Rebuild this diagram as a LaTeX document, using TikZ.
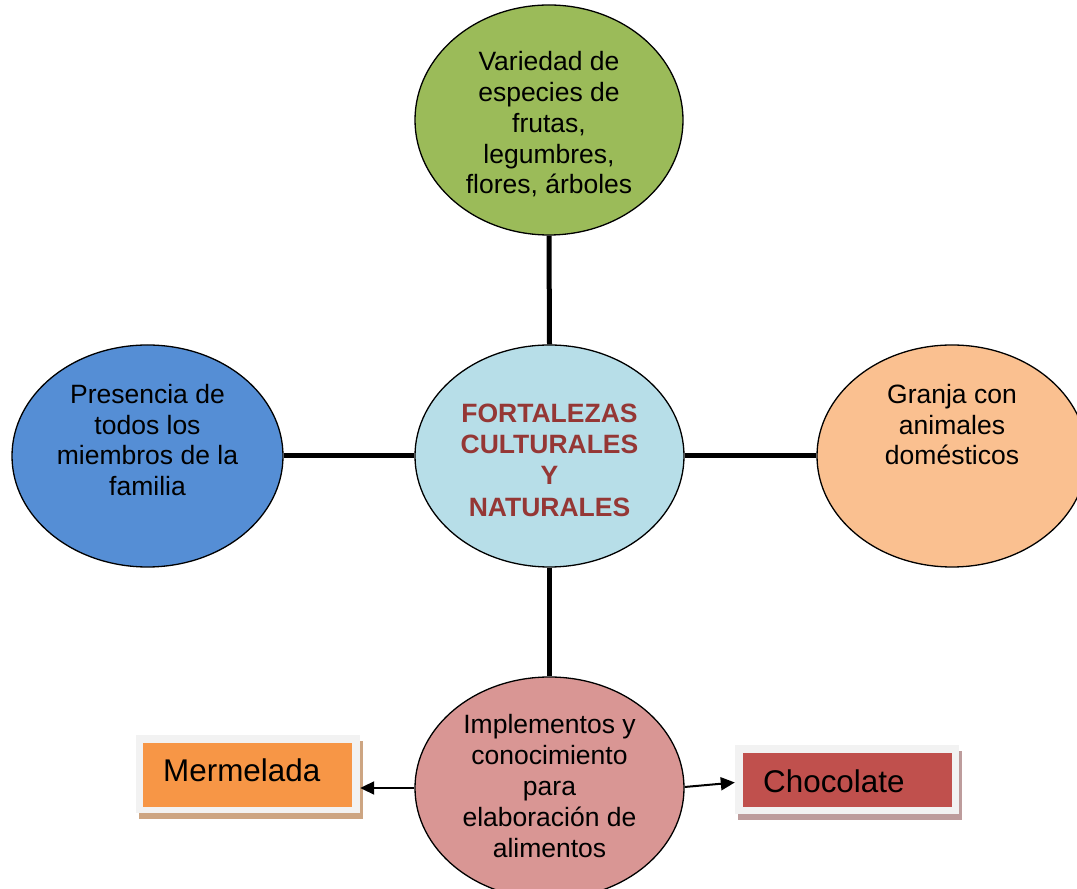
\documentclass[tikz,border=0pt]{standalone}
\usepackage{fontspec}
\setmainfont{Liberation Sans}
\usetikzlibrary{shapes.geometric,arrows.meta,shadows}
\definecolor{cgreen}{HTML}{9BBB59}
\definecolor{ccenter}{HTML}{B7DEE8}
\definecolor{cblue}{HTML}{558ED5}
\definecolor{corange}{HTML}{FAC090}
\definecolor{cpink}{HTML}{D99694}
\definecolor{cmerm}{HTML}{F79646}
\definecolor{cchoc}{HTML}{C0504D}
\definecolor{ctitle}{HTML}{953735}
\definecolor{cframe}{HTML}{F2F2F2}
\definecolor{cshadowA}{HTML}{CDA582}
\definecolor{cshadowB}{HTML}{BD9C9C}
\tikzset{
  ell/.style={ellipse, draw=black, line width=1.3pt, inner sep=0pt},
  etext/.style={align=center, inner sep=0pt, font=\fontsize{26.5}{30.8}\selectfont},
  conn/.style={line width=5pt, black},
  arr/.style={line width=2pt, black, -{Triangle[length=14pt,width=13pt]}},
  frame/.style={fill=cframe, inner sep=0pt},
  inbox/.style={inner sep=0pt},
  boxtext/.style={font=\fontsize{31.4}{36}\selectfont, anchor=base west, inner sep=0pt}
}
\begin{document}
\begin{tikzpicture}[x=1pt,y=1pt]
\useasboundingbox (0,0) rectangle (1077,889);
\clip (0,0) rectangle (1077,889);
\fill[white] (0,0) rectangle (1077,889);
% ellipses
\node[ell, fill=cgreen, minimum width=268pt, minimum height=230pt] (top) at (549,769) {};
\node[ell, fill=ccenter, minimum width=269pt, minimum height=222pt] (cen) at (549.5,433) {};
\node[ell, fill=cblue, minimum width=271pt, minimum height=222pt] (left) at (147.5,433) {};
\node[ell, fill=corange, minimum width=270pt, minimum height=222pt] (right) at (952,433) {};
\node[ell, fill=cpink, minimum width=269pt, minimum height=222pt] (bot) at (549.5,101) {};
% texts
\node[etext] (toptext) at ([yshift=-4.5pt]top.center)
  {Variedad de\\especies de\\frutas,\\legumbres,\\flores, árboles};
\node[etext, text=ctitle, font=\bfseries\fontsize{26.5}{31.3}\selectfont] (centext)
  at ([yshift=-4pt]cen.center) {FORTALEZAS\\CULTURALES\\Y\\NATURALES};
\node[etext] (lefttext) at ([yshift=-4pt]left.center)
  {Presencia de\\todos los\\miembros de la\\familia\\\strut};
\node[etext] (righttext) at ([yshift=-4pt]right.center)
  {Granja con\\animales\\domésticos\\\strut\\\strut};
\node[etext] (bottext) at ([yshift=2pt]bot.center)
  {Implementos y\\conocimiento\\para\\elaboración de\\alimentos};
% connectors
\draw[conn] (top.south) -- (cen.north);
\draw[conn] (cen.west) -- (left.east);
\draw[conn] (cen.east) -- (right.west);
\draw[conn] (cen.south) -- (bot.north);
% boxes
\node[frame, minimum width=224pt, minimum height=78pt,
  drop shadow={shadow xshift=2.5pt, shadow yshift=-6pt, fill=cshadowA, opacity=1}] (mer) at (248,115) {};
\node[inbox, fill=cmerm, minimum width=209pt, minimum height=64pt] (merin) at (247.5,114) {};
\node[boxtext] (mertext) at (163,107) {Mermelada};
\node[frame, minimum width=224pt, minimum height=69pt,
  drop shadow={shadow xshift=3pt, shadow yshift=-6pt, fill=cshadowB, opacity=1}] (cho) at (847,109.5) {};
\node[inbox, fill=cchoc, minimum width=209pt, minimum height=54pt] (choin) at (847.5,109) {};
\node[boxtext] (chotext) at (763,96) {Chocolate};
% arrows
\draw[arr] (bot.west) -- (bot.west -| mer.east);
\draw[arr] ([yshift=1pt]bot.east) -- ([yshift=-3pt]cho.west);
\end{tikzpicture}
\end{document}
